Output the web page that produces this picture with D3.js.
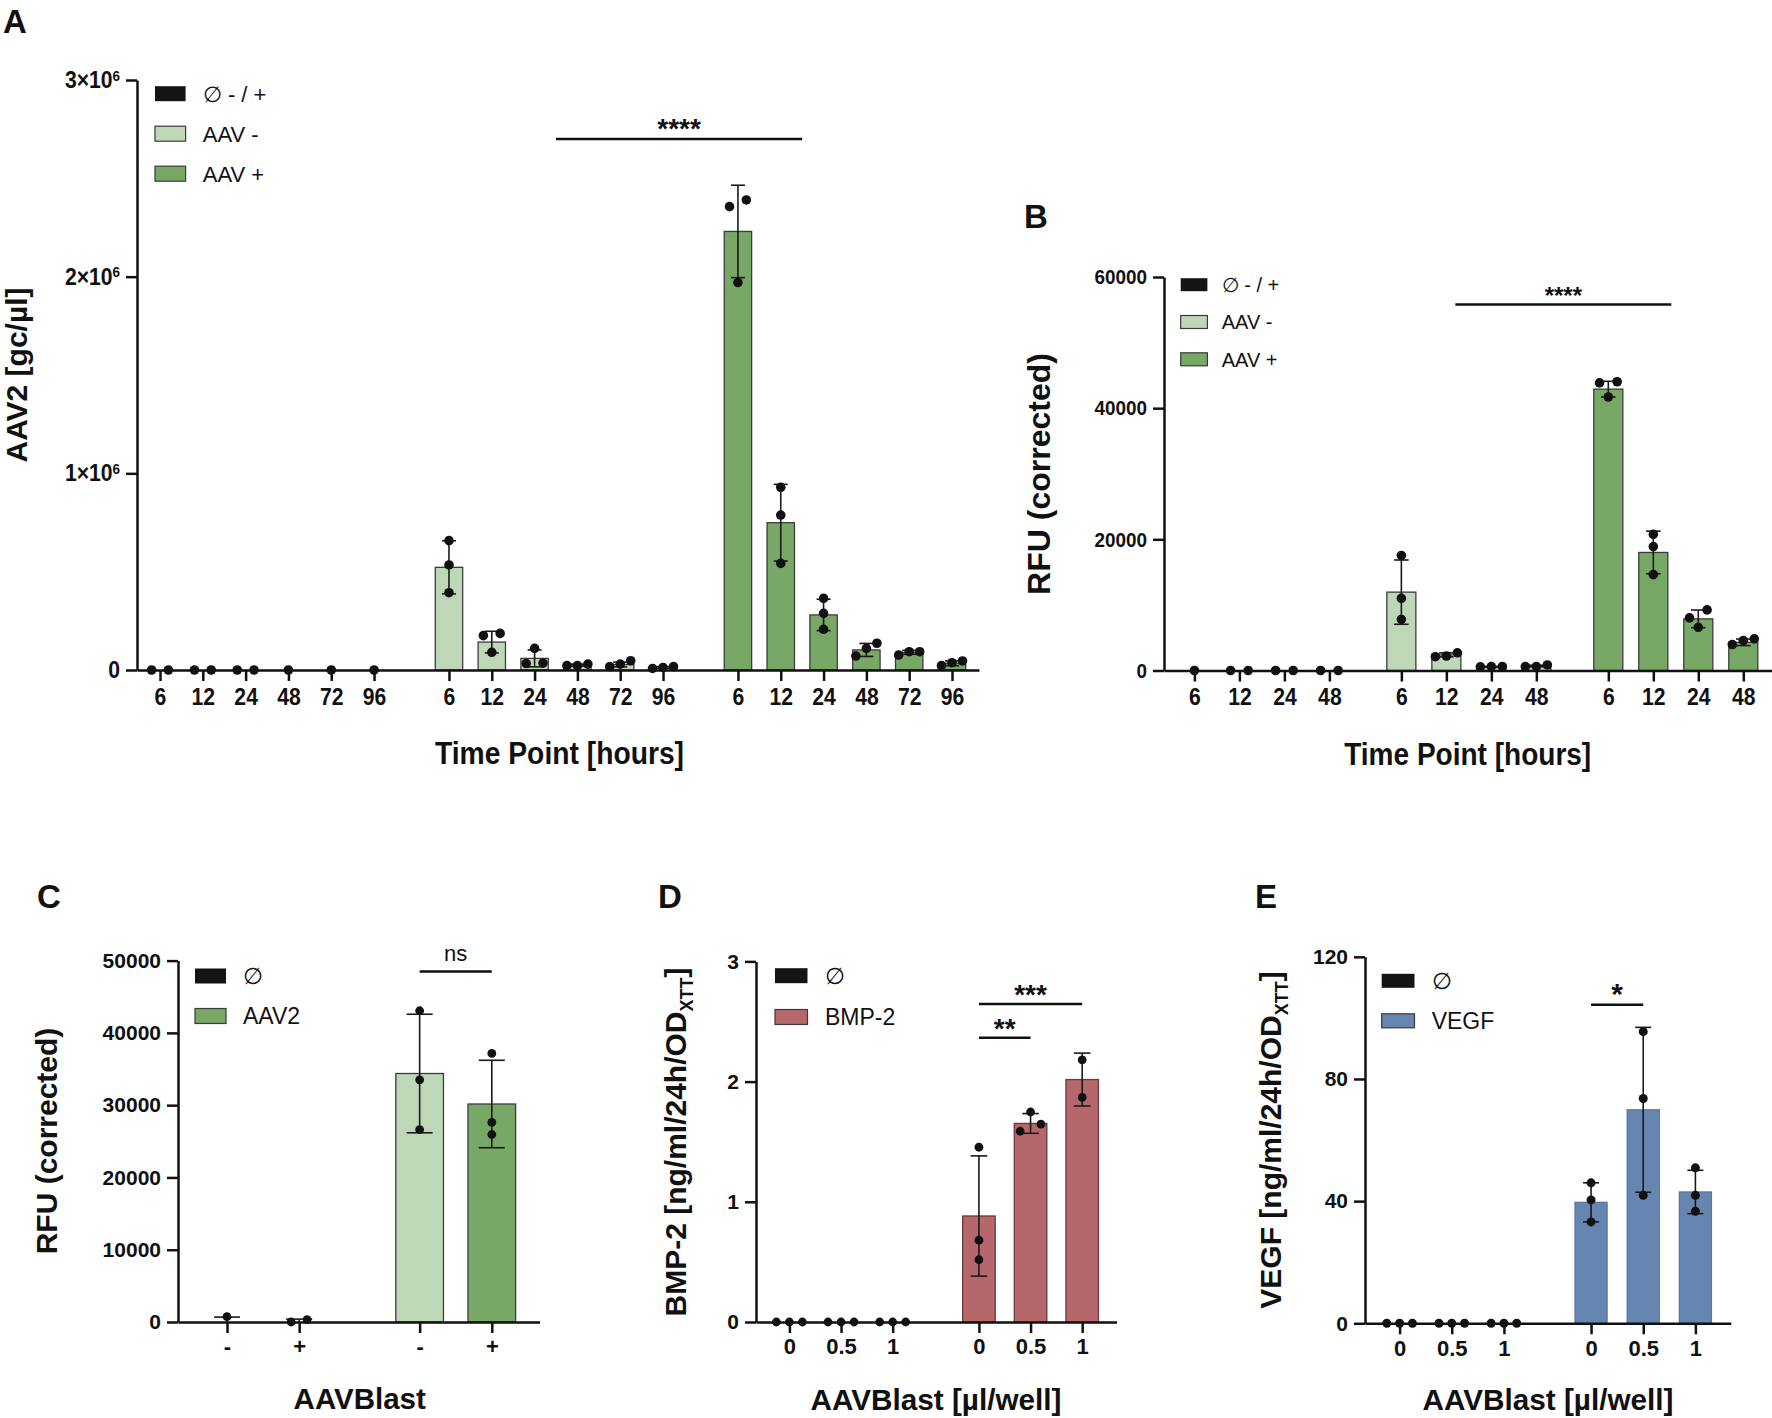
<!DOCTYPE html>
<html>
<head>
<meta charset="utf-8">
<script src="https://cdn.jsdelivr.net/npm/d3@7"></script>
<style>
body { margin: 0; background: #fff; overflow: hidden; }
svg { display: block; }
text { font-family: "Liberation Sans", Arial, Helvetica, sans-serif; fill: #111; }
</style>
</head>
<body>
<svg id="fig" width="1772" height="1418"></svg>
<script>

// ---------- data ----------

// A: AAV2 genome copies per time point
var timeA = ['6', '12', '24', '48', '72', '96'];
var aNoneMean = [0, 0, 0, 0, 0, 0];
var aNoneSd = [0, 0, 0, 0, 0, 0];
var aNoneDots = [[0, 0], [0, 0], [0, 0], [0], [0], [0]];
var aMinusMean = [522000, 142000, 59000, 25000, 28000, 13000];
var aMinusSd = [135000, 55000, 43000, 5000, 12000, 4000];
var aMinusDots = [[658000, 534000, 393000], [186000, 175000, 90000], [110000, 35000, 33000],
                  [22000, 30000, 22000], [17000, 47000, 30000], [8000, 17000, 13000]];
var aPlusMean = [2230000, 749000, 280000, 102000, 90000, 34000];
var aPlusSd = [235000, 195000, 80000, 33000, 10000, 12000];
var aPlusDots = [[2390000, 2356000, 1970000], [929000, 788000, 542000], [364000, 288000, 207000],
                 [136000, 71000, 110000], [76000, 93000, 93000], [22000, 46000, 37000]];

// B: RFU per time point
var timeB = ['6', '12', '24', '48'];
var bNoneMean = [0, 0, 0, 0];
var bNoneSd = [0, 0, 0, 0];
var bNoneDots = [[0], [0, 0], [0, 0], [0, 0]];
var bMinusMean = [11950, 2390, 570, 680];
var bMinusSd = [4900, 300, 60, 120];
var bMinusDots = [[17540, 10990, 7780], [2100, 2700, 2200], [550, 620, 600], [600, 850, 600]];
var bPlusMean = [42900, 18000, 7870, 4300];
var bPlusSd = [1200, 3250, 1350, 500];
var bPlusDots = [[44030, 43860, 41700], [20760, 18890, 14620], [9240, 8020, 6590], [3960, 4820, 4570]];

// C: RFU with / without AAVBlast
var blastC = ['-', '+'];
var cNoneMean = [250, 165];
var cNoneSd = [430, 233];
var cNoneDots = [[740], [0, 330]];
var cAavMean = [34380, 30160];
var cAavSd = [8200, 6050];
var cAavDots = [[43060, 33510, 26620], [37160, 27610, 25940]];

// D: BMP-2
var doseD = ['0', '0.5', '1'];
var dNoneMean = [0, 0, 0];
var dNoneSd = [0, 0, 0];
var dNoneDots = [[0, 0, 0], [0, 0, 0], [0, 0, 0]];
var dBmpMean = [0.882, 1.652, 2.017];
var dBmpSd = [0.5, 0.082, 0.22];
var dBmpDots = [[1.454, 0.681, 0.518], [1.587, 1.747, 1.646], [2.18, 1.868]];

// E: VEGF
var doseE = ['0', '0.5', '1'];
var eNoneMean = [0, 0, 0];
var eNoneSd = [0, 0, 0];
var eNoneDots = [[0, 0, 0], [0, 0, 0], [0, 0, 0]];
var eVegfMean = [39.6, 69.9, 43.0];
var eVegfSd = [6.4, 27, 7.1];
var eVegfDots = [[46.0, 40.4, 33.2], [95.5, 73.6, 41.9], [50.9, 41.9, 36.7]];

// significance brackets: [group, index] ends, height in data units
var sigA = [{from: [1, 2.5], to: [2, 1.5], y: 2700000, label: '****'}];
var sigB = [{from: [1, 1.2], to: [2, 1.4], y: 55800, label: '****'}];
var sigC = [{from: [1, 0], to: [1, 1], y: 48500, label: 'ns'}];
var sigD = [{from: [1, 0], to: [1, 1], y: 2.364, label: '**'},
            {from: [1, 0], to: [1, 2], y: 2.645, label: '***'}];
var sigE = [{from: [1, 0], to: [1, 1], y: 104.3, label: '*'}];

// ---------- colours ----------
var colNone = '#141414';
var colLight = '#bed7b6';
var colDark = '#78a866';
var colBmp = '#b5676b';
var colVegf = '#6685b1';
var EMPTY = '\u2205';

var svg = d3.select('#fig');
svg.append('rect').attr('width', 1772).attr('height', 1418).attr('fill', '#fff');

function squeeze(sel, k) {
    if (k === 1) return;
    sel.each(function () {
        var t = d3.select(this);
        var xx = +t.attr('x') || 0;
        t.attr('x', xx / k).attr('transform', 'scale(' + k + ',1)');
    });
}

// spread dots that would overlap at (nearly) the same height
function dotOffsets(vals, y, sp, thr) {
    var idx = vals.map(function (v, i) { return i; })
        .sort(function (a, b) { return vals[a] - vals[b]; });
    var clusters = [], cur = [];
    idx.forEach(function (i) {
        if (cur.length && Math.abs(y(vals[i]) - y(vals[cur[cur.length - 1]])) > thr) {
            clusters.push(cur); cur = [];
        }
        cur.push(i);
    });
    if (cur.length) clusters.push(cur);
    var off = [];
    clusters.forEach(function (c) {
        c.forEach(function (i, k) {
            if (c.length === 2) off[i] = (k === 0 ? -0.8 : 0.8) * sp;
            else off[i] = (k - (c.length - 1) / 2) * sp;
        });
    });
    return off;
}

function drawPanel(p) {
    var g = svg.append('g');
    var n = p.cats.length;
    var lastSlot = (p.groups.length - 1) * (n + p.gap) + (n - 1);
    var slot = function (gi, i) { return gi * (n + p.gap) + i; };

    var x = d3.scaleLinear().domain([0, lastSlot]).range([p.first, p.lastTick]);
    var xa = d3.scaleLinear().domain([x.invert(p.axisX), x.invert(p.axisEnd)]).range([p.axisX, p.axisEnd]);
    var y = d3.scaleLinear().domain([0, p.yMax]).range([p.y0, p.yTop]);
    var bw = (x(1) - x(0)) * p.barFrac;

    var rows = [];
    p.groups.forEach(function (grp, gi) {
        p.cats.forEach(function (c, i) {
            rows.push({
                gi: gi, i: i, label: c, pos: slot(gi, i),
                mean: grp.mean[i], sd: grp.sd[i], dots: grp.dots[i],
                fill: grp.fills ? grp.fills[i] : grp.color, stroke: grp.stroke
            });
        });
    });

    // bars (too thin to show are left out, as in the original)
    g.selectAll('rect.bar')
        .data(rows.filter(function (r) { return y(0) - y(r.mean) >= 3; }))
        .enter().append('rect')
        .attr('class', 'bar')
        .attr('x', function (r) { return x(r.pos) - bw / 2; })
        .attr('y', function (r) { return y(r.mean); })
        .attr('width', bw)
        .attr('height', function (r) { return y(0) - y(r.mean); })
        .attr('fill', function (r) { return r.fill; })
        .attr('stroke', function (r) { return r.stroke; })
        .attr('stroke-width', 1.3);

    // axes
    var xAxis = g.append('g')
        .attr('transform', 'translate(0,' + p.y0 + ')')
        .call(d3.axisBottom(xa)
            .tickValues(rows.map(function (r) { return r.pos; }))
            .tickFormat(function (d, k) { return rows[k].label; })
            .tickSize(11).tickPadding(p.xPad).tickSizeOuter(0));
    xAxis.attr('font-family', null).attr('font-size', p.tickFs).attr('font-weight', 'bold');
    xAxis.selectAll('path, line').attr('stroke', '#111').attr('stroke-width', 2.5);
    squeeze(xAxis.selectAll('.tick text'), p.squeeze);

    var yAxis = g.append('g')
        .attr('transform', 'translate(' + p.axisX + ',0)')
        .call(d3.axisLeft(y).tickValues(p.yTicks).tickFormat(p.yFormat)
            .tickSize(11).tickPadding(6).tickSizeOuter(0));
    yAxis.attr('font-family', null).attr('font-size', p.yTickFs).attr('font-weight', 'bold');
    yAxis.selectAll('path, line').attr('stroke', '#111').attr('stroke-width', 2.5);
    if (p.sci) {
        yAxis.selectAll('.tick text').each(function (d) {
            if (!d) return;
            var t = d3.select(this);
            t.text(null);
            t.append('tspan').text((d / 1e6) + '\u00d710');
            t.append('tspan').attr('dy', '-0.5em').attr('font-size', 15).text('6');
        });
    }
    squeeze(yAxis.selectAll('.tick text'), p.squeeze);

    // error bars
    var eb = g.append('g').attr('stroke', '#1a1a1a').attr('stroke-width', 1.6).attr('fill', 'none');
    rows.forEach(function (r) {
        if (!r.sd) return;
        var cx = x(r.pos);
        var top = y(r.mean + r.sd), bot = y(Math.max(0, r.mean - r.sd));
        eb.append('line').attr('x1', cx).attr('x2', cx).attr('y1', top).attr('y2', bot);
        eb.append('line').attr('x1', cx - p.cap).attr('x2', cx + p.cap).attr('y1', top).attr('y2', top);
        if (r.mean - r.sd > 0)
            eb.append('line').attr('x1', cx - p.cap).attr('x2', cx + p.cap).attr('y1', bot).attr('y2', bot);
    });

    // individual points
    var pts = [];
    rows.forEach(function (r) {
        var off = dotOffsets(r.dots, y, p.sp, p.r * 1.9);
        r.dots.forEach(function (v, k) { pts.push({cx: x(r.pos) + off[k], cy: y(v)}); });
    });
    g.selectAll('circle.pt').data(pts).enter().append('circle')
        .attr('class', 'pt')
        .attr('cx', function (d) { return d.cx; })
        .attr('cy', function (d) { return d.cy; })
        .attr('r', p.r)
        .attr('fill', '#111');

    // significance
    p.sigs.forEach(function (s) {
        var x1 = x(slot(s.from[0], s.from[1])), x2 = x(slot(s.to[0], s.to[1]));
        var ly = y(s.y);
        g.append('line').attr('x1', x1).attr('x2', x2).attr('y1', ly).attr('y2', ly)
            .attr('stroke', '#111').attr('stroke-width', 2.5);
        var star = s.label.indexOf('*') >= 0;
        g.append('text')
            .attr('x', (x1 + x2) / 2)
            .attr('y', star ? ly - p.sigLift + 0.31 * p.sigFs : ly - p.sigLift)
            .attr('text-anchor', 'middle')
            .attr('font-size', star ? p.sigFs : 22)
            .attr('font-weight', star ? 'bold' : 'normal')
            .text(s.label);
    });

    // legend
    var L = p.legend;
    L.items.forEach(function (it, k) {
        var cy = L.cy + k * L.dy;
        g.append('rect').attr('x', L.x).attr('y', cy - L.sh / 2)
            .attr('width', L.sw).attr('height', L.sh)
            .attr('fill', it.color)
            .attr('stroke', it.color === colNone ? 'none' : '#3a3a3a')
            .attr('stroke-width', 1.2);
        g.append('text').attr('x', L.tx).attr('y', cy + L.fs * 0.36)
            .attr('font-size', L.fs).text(it.name);
    });

    // axis titles
    var xt = g.append('text')
        .attr('transform', 'translate(' + p.xTitle.x + ',' + p.xTitle.y + ')')
        .attr('text-anchor', 'middle').attr('font-weight', 'bold')
        .attr('font-size', p.xTitle.fs).text(p.xTitle.text);
    if (p.xTitle.len) xt.attr('textLength', p.xTitle.len).attr('lengthAdjust', 'spacingAndGlyphs');

    var yt = g.append('text')
        .attr('transform', 'translate(' + p.yTitle.x + ',' + p.yTitle.y + ') rotate(-90)')
        .attr('text-anchor', 'middle').attr('font-weight', 'bold')
        .attr('font-size', p.yTitle.fs);
    if (p.yTitle.sub) {
        yt.append('tspan').text(p.yTitle.text);
        yt.append('tspan').attr('font-size', 18).attr('dy', 7).text(p.yTitle.sub);
        yt.append('tspan').attr('dy', -7).text(']');
    } else {
        yt.text(p.yTitle.text);
    }

    // panel letter
    g.append('text').attr('x', p.letter.x).attr('y', p.letter.y)
        .attr('font-family', '"Open Sans", "Noto Sans", sans-serif')
        .attr('font-weight', 'bold').attr('font-size', 33)
        .text(p.letter.t);
}

var plain = d3.format('d');

drawPanel({
    cats: timeA, gap: 0.75,
    groups: [
        {mean: aNoneMean, sd: aNoneSd, dots: aNoneDots, color: colNone, stroke: colNone},
        {mean: aMinusMean, sd: aMinusSd, dots: aMinusDots, color: colLight, stroke: '#3c3c3c'},
        {mean: aPlusMean, sd: aPlusSd, dots: aPlusDots, color: colDark, stroke: '#3c3c3c'}
    ],
    axisX: 137, axisEnd: 979, first: 160, lastTick: 952,
    y0: 670, yTop: 80, yMax: 3e6, yTicks: [0, 1e6, 2e6, 3e6], yFormat: plain, sci: true,
    barFrac: 0.64, r: 4.8, sp: 10.5, cap: 7,
    squeeze: 0.9, tickFs: 23.5, yTickFs: 23.5, xPad: 7,
    sigs: sigA, sigFs: 28, sigLift: 10,
    legend: {x: 155, cy: 93.7, dy: 40, sw: 30.6, sh: 15, tx: 202.8, fs: 22,
        items: [{name: EMPTY + ' - / +', color: colNone}, {name: 'AAV -', color: colLight}, {name: 'AAV +', color: colDark}]},
    xTitle: {text: 'Time Point [hours]', x: 559.5, y: 764, fs: 31, len: 249},
    yTitle: {text: 'AAV2 [gc/\u00b5l]', x: 27, y: 375, fs: 30},
    letter: {t: 'A', x: 3, y: 33}
});

drawPanel({
    cats: timeB, gap: 0.6,
    groups: [
        {mean: bNoneMean, sd: bNoneSd, dots: bNoneDots, color: colNone, stroke: colNone},
        {mean: bMinusMean, sd: bMinusSd, dots: bMinusDots, color: colLight, stroke: '#3c3c3c'},
        {mean: bPlusMean, sd: bPlusSd, dots: bPlusDots, color: colDark, stroke: '#3c3c3c'}
    ],
    axisX: 1164, axisEnd: 1772, first: 1194.4, lastTick: 1743.3,
    y0: 670.5, yTop: 277, yMax: 60000, yTicks: [0, 20000, 40000, 60000], yFormat: plain,
    barFrac: 0.645, r: 4.8, sp: 11, cap: 7.3,
    squeeze: 0.9, tickFs: 23.5, yTickFs: 21, xPad: 7,
    sigs: sigB, sigFs: 24, sigLift: 7.6,
    legend: {x: 1180.7, cy: 284.7, dy: 37.3, sw: 26.7, sh: 13, tx: 1221.7, fs: 20,
        items: [{name: EMPTY + ' - / +', color: colNone}, {name: 'AAV -', color: colLight}, {name: 'AAV +', color: colDark}]},
    xTitle: {text: 'Time Point [hours]', x: 1467.7, y: 765, fs: 31, len: 247},
    yTitle: {text: 'RFU (corrected)', x: 1050, y: 474, fs: 32},
    letter: {t: 'B', x: 1024, y: 228}
});

drawPanel({
    cats: blastC, gap: 0.67,
    groups: [
        {mean: cNoneMean, sd: cNoneSd, dots: cNoneDots, color: colNone, stroke: colNone},
        {mean: cAavMean, sd: cAavSd, dots: cAavDots, color: colDark, fills: [colLight, colDark], stroke: '#3c3c3c'}
    ],
    axisX: 178, axisEnd: 539.6, first: 227, lastTick: 491.8,
    y0: 1322, yTop: 960.6, yMax: 50000, yTicks: d3.range(0, 50001, 10000), yFormat: plain,
    barFrac: 0.66, r: 4.4, sp: 10, cap: 13,
    squeeze: 1, tickFs: 22, yTickFs: 21, xPad: 5.6,
    sigs: sigC, sigFs: 22, sigLift: 10,
    legend: {x: 195, cy: 976, dy: 40, sw: 31, sh: 15, tx: 243, fs: 23,
        items: [{name: EMPTY, color: colNone}, {name: 'AAV2', color: colDark}]},
    xTitle: {text: 'AAVBlast', x: 359.7, y: 1409, fs: 29.5},
    yTitle: {text: 'RFU (corrected)', x: 57, y: 1141, fs: 30},
    letter: {t: 'C', x: 37, y: 908}
});

drawPanel({
    cats: doseD, gap: 0.67,
    groups: [
        {mean: dNoneMean, sd: dNoneSd, dots: dNoneDots, color: colNone, stroke: colNone},
        {mean: dBmpMean, sd: dBmpSd, dots: dBmpDots, color: colBmp, stroke: '#6a3a3c'}
    ],
    axisX: 756, axisEnd: 1116.6, first: 789.4, lastTick: 1082.2,
    y0: 1322, yTop: 961.4, yMax: 3, yTicks: [0, 1, 2, 3], yFormat: plain,
    barFrac: 0.63, r: 4.4, sp: 13, cap: 8.3,
    squeeze: 1, tickFs: 22, yTickFs: 21, xPad: 5.6,
    sigs: sigD, sigFs: 28, sigLift: 8.5,
    legend: {x: 775, cy: 975.7, dy: 41.3, sw: 32.5, sh: 15, tx: 825, fs: 23,
        items: [{name: EMPTY, color: colNone}, {name: 'BMP-2', color: colBmp}]},
    xTitle: {text: 'AAVBlast [\u00b5l/well]', x: 936, y: 1410, fs: 29.5, len: 251},
    yTitle: {text: 'BMP-2 [ng/ml/24h/OD', sub: 'XTT', x: 686, y: 1142, fs: 30},
    letter: {t: 'D', x: 658, y: 908}
});

drawPanel({
    cats: doseE, gap: 0.67,
    groups: [
        {mean: eNoneMean, sd: eNoneSd, dots: eNoneDots, color: colNone, stroke: colNone},
        {mean: eVegfMean, sd: eVegfSd, dots: eVegfDots, color: colVegf, stroke: '#5a78a3'}
    ],
    axisX: 1365, axisEnd: 1730.8, first: 1399.6, lastTick: 1695.4,
    y0: 1323.3, yTop: 956.8, yMax: 120, yTicks: [0, 40, 80, 120], yFormat: plain,
    barFrac: 0.615, r: 4.5, sp: 12.8, cap: 8,
    squeeze: 1, tickFs: 22, yTickFs: 21, xPad: 5.6,
    sigs: sigE, sigFs: 30, sigLift: 9.6,
    legend: {x: 1381.7, cy: 980.8, dy: 40, sw: 32.8, sh: 14, tx: 1431.7, fs: 23,
        items: [{name: EMPTY, color: colNone}, {name: 'VEGF', color: colVegf}]},
    xTitle: {text: 'AAVBlast [\u00b5l/well]', x: 1548, y: 1410, fs: 29.5, len: 251},
    yTitle: {text: 'VEGF [ng/ml/24h/OD', sub: 'XTT', x: 1281, y: 1140, fs: 30},
    letter: {t: 'E', x: 1255, y: 908}
});

</script>
</body>
</html>
